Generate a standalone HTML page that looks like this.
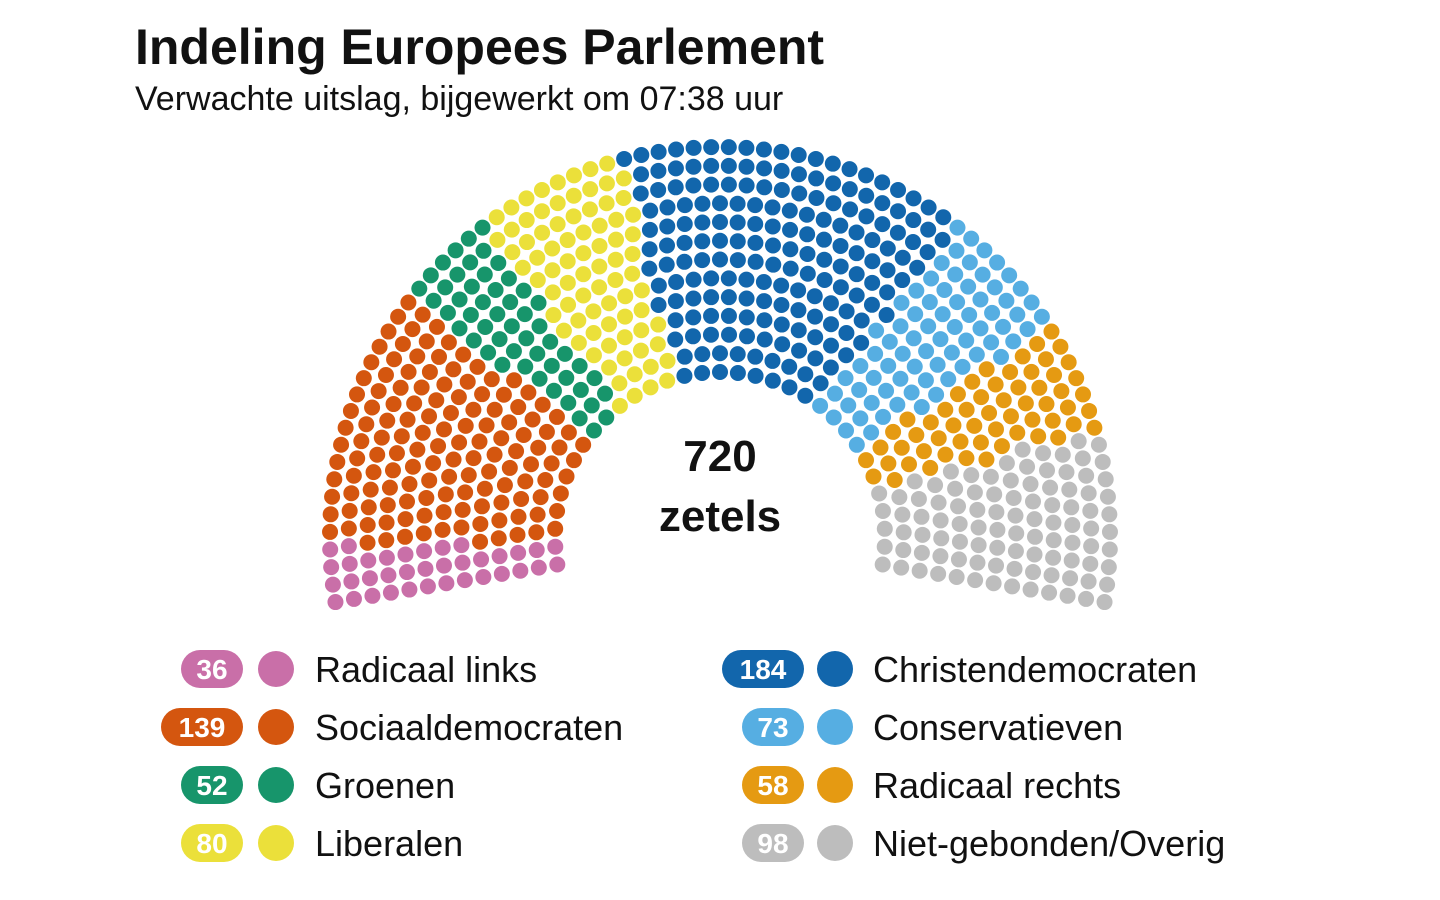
<!DOCTYPE html>
<html><head><meta charset="utf-8"><style>
body{margin:0;background:#fff;font-family:"Liberation Sans",sans-serif;}
#wrap{position:relative;width:1440px;height:900px;overflow:hidden;}
</style></head><body>
<div id="wrap">
<svg id="svg" width="1440" height="900">
<text x="135" y="64" font-size="50" font-weight="bold" fill="#111">Indeling Europees Parlement</text>
<text x="135" y="110" font-size="34" fill="#111">Verwachte uitslag, bijgewerkt om 07:38 uur</text>
<text x="720" y="471" font-size="44" font-weight="bold" text-anchor="middle" fill="#111">720</text>
<text x="720" y="531" font-size="44" font-weight="bold" text-anchor="middle" fill="#111">zetels</text>
<g id="seats"></g><g id="legend"></g>
</svg>
</div>
<script>
const parties=["Radicaal links","Sociaaldemocraten","Groenen","Liberalen","Christendemocraten","Conservatieven","Radicaal rechts","Niet-gebonden/Overig"];
const seats=[36,139,52,80,184,73,58,98];
const colors=["#c96fa8","#d4560f","#17956b","#ebe03a","#1266ac","#56aee2","#e59a12","#bdbdbd"];
const NS="http://www.w3.org/2000/svg";
const cx=720,cy=537,rIn=165,rOut=390,rows=13,a0=189.6,a1=-9.6,dotR=8;
const total=seats.reduce((a,b)=>a+b,0);
const radii=[];for(let i=0;i<rows;i++)radii.push(rIn+(rOut-rIn)*i/(rows-1));
const sumR=radii.reduce((a,b)=>a+b,0);
let counts=radii.map(r=>Math.round(total*r/sumR));
let diff=total-counts.reduce((a,b)=>a+b,0);
for(let i=rows-1;diff!==0;i=(i-1+rows)%rows){counts[i]+=diff>0?1:-1;diff+=diff>0?-1:1;}
const pts=[];
radii.forEach((r,i)=>{const n=counts[i];for(let j=0;j<n;j++){const a=a0+(a1-a0)*(n===1?0.5:j/(n-1));pts.push({r,a});}});
pts.sort((p,q)=>q.a-p.a||p.r-q.r);
const g=document.getElementById('seats');
let k=0;
seats.forEach((s,pi)=>{for(let j=0;j<s&&k<pts.length;j++,k++){const p=pts[k];const rad=p.a*Math.PI/180;
const c=document.createElementNS(NS,'circle');
c.setAttribute('cx',cx+p.r*Math.cos(rad));c.setAttribute('cy',cy-p.r*Math.sin(rad));c.setAttribute('r',dotR);c.setAttribute('fill',colors[pi]);


g.appendChild(c);}});
const lg=document.getElementById('legend');
parties.forEach((name,i)=>{const col=i<4?0:1,row=i%4;const y=669+row*58;
const pillR=col?804:243,dotX=col?835:276,txtX=col?873:315;
const w=String(seats[i]).length>2?82:62;
const e=document.createElementNS(NS,'g');


e.innerHTML=`<rect x="${pillR-w}" y="${y-19}" width="${w}" height="38" rx="19" fill="${colors[i]}"/><text x="${pillR-w/2}" y="${y+10}" font-size="28" font-weight="bold" fill="#fff" text-anchor="middle">${seats[i]}</text><circle cx="${dotX}" cy="${y}" r="18" fill="${colors[i]}"/><text x="${txtX}" y="${y+13}" font-size="36" fill="#111">${name}</text>`;
lg.appendChild(e);});
</script>
</body></html>
